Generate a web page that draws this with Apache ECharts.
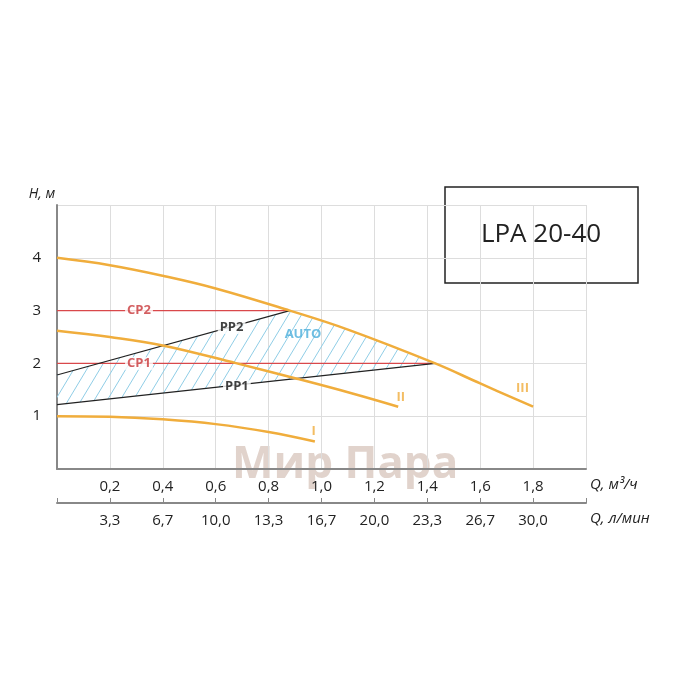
<!DOCTYPE html>
<html><head><meta charset="utf-8">
<script src="https://cdn.jsdelivr.net/npm/echarts@6/dist/echarts.min.js"></script>
<style>html,body{margin:0;padding:0;background:#fff}#c{width:700px;height:700px}</style>
</head><body><div id="c"></div>
<script>
const curveIII = [[0,4.0],[0.2,3.86],[0.4,3.66],[0.6,3.42],[0.88,3.0],[1.1,2.64],[1.43,2.0],[1.6,1.62],[1.8,1.18]];
const curveII = [[0,2.62],[0.2,2.5],[0.4,2.34],[0.68,2.0],[0.9,1.72],[1.11,1.44],[1.29,1.18]];
const curveI = [[0,1.0],[0.2,0.99],[0.4,0.94],[0.6,0.85],[0.8,0.7],[0.975,0.52]];
const pp2 = [[0,1.78],[0.88,3.0]];
const pp1 = [[0,1.22],[1.43,2.0]];
const cp2 = [[0,3.0],[0.88,3.0]];
const cp1 = [[0,2.0],[1.43,2.0]];
const autoUpper = [[0,1.78],[0.88,3.0],[1.1,2.64],[1.43,2.0]];
const qM3Labels = ['0,2','0,4','0,6','0,8','1,0','1,2','1,4','1,6','1,8'];
const qLpmLabels = ['3,3','6,7','10,0','13,3','16,7','20,0','23,3','26,7','30,0'];
const hLabels = ['1','2','3','4'];
const textLabels = [
  {name:'CP2', pos:[0.31,3.0], color:'#c8373a'},
  {name:'CP1', pos:[0.31,2.0], color:'#c8373a'},
  {name:'PP2', pos:[0.66,2.68], color:'#111'},
  {name:'PP1', pos:[0.68,1.56], color:'#111'},
  {name:'AUTO', pos:[0.93,2.55], color:'#4aaedb'},
  {name:'I', pos:[0.97,0.72], color:'#f0ad3c'},
  {name:'II', pos:[1.3,1.36], color:'#f0ad3c'},
  {name:'III', pos:[1.76,1.52], color:'#f0ad3c'}
];
const polygon = autoUpper.concat(pp1.slice().reverse());

const tick = (v,arr)=>{const i=Math.round(v/0.2)-1;return (i>=0&&i<arr.length)?arr[i]:'';};
const ORANGE='#f0ad3c';
const chart = echarts.init(document.getElementById('c'));
const line=(d,c,w,smooth)=>({type:'line',data:d,showSymbol:false,smooth:smooth?0.4:false,lineStyle:{color:c,width:w},z:smooth?5:4,silent:true});
function hatch(p,api){
  const pts=polygon.map(q=>api.coord(q));
  const xs=pts.map(a=>a[0]), ys=pts.map(a=>a[1]);
  const x0=Math.min(...xs),x1=Math.max(...xs),y0=Math.min(...ys),y1=Math.max(...ys);
  const h=y1-y0, children=[];
  for(let x=x0-h*0.6;x<x1;x+=13){
    children.push({type:'line',shape:{x1:x,y1:y1,x2:x+h*0.6,y2:y0},style:{stroke:'#8fcde6',lineWidth:1}});
  }
  return {type:'group',children:children,clipPath:{type:'polygon',shape:{points:pts}}};
}
chart.setOption({
  animation:false,
  textStyle:{fontFamily:'Open Sans'},
  grid:{left:57,right:114,top:205,bottom:231},
  xAxis:[
    {type:'value',min:0,max:2,interval:0.2,position:'bottom',
     axisLine:{lineStyle:{color:'#888',width:2}},axisTick:{show:false},
     splitLine:{lineStyle:{color:'#ddd'}},
     axisLabel:{formatter:v=>tick(v,qM3Labels),color:'#222',fontSize:15,margin:10},
     name:'Q, м³/ч',nameLocation:'end',nameGap:4,nameTextStyle:{fontStyle:'italic',fontSize:15,color:'#222',verticalAlign:'top',padding:[8,0,0,0]}},
    {type:'value',min:0,max:2,interval:0.2,position:'bottom',offset:34,
     axisLine:{show:true,lineStyle:{color:'#888',width:2}},axisTick:{show:true,inside:true,length:5,lineStyle:{color:'#888'}},
     splitLine:{show:false},
     axisLabel:{formatter:v=>tick(v,qLpmLabels),color:'#222',fontSize:15,margin:10},
     name:'Q, л/мин',nameLocation:'end',nameGap:4,nameTextStyle:{fontStyle:'italic',fontSize:15,color:'#222',verticalAlign:'top',padding:[8,0,0,0]}}
  ],
  yAxis:{type:'value',min:0,max:5,interval:1,
     axisLine:{show:true,lineStyle:{color:'#888',width:2}},axisTick:{show:false},
     splitLine:{lineStyle:{color:'#ddd'}},
     axisLabel:{formatter:v=>hLabels[v-1]||'',color:'#222',fontSize:15,margin:16},
     name:'H, м',nameLocation:'end',nameGap:4,nameTextStyle:{fontStyle:'italic',fontSize:14,color:'#222',padding:[0,30,0,0]}},
  graphic:[
    {type:'text',left:232,top:443,z:0,style:{text:'Мир Пара',fontSize:44,fontWeight:'bold',fill:'rgba(170,130,110,0.35)',fontFamily:'Open Sans'}},
    {type:'rect',shape:{x:445,y:187,width:193,height:96},style:{fill:'#fff',stroke:'#222',lineWidth:1.5}},
    {type:'text',x:541,y:235,style:{text:'LPA 20-40',fontSize:26,fill:'#222',align:'center',verticalAlign:'middle',fontFamily:'Open Sans'}}
  ],
  series:[
    {type:'custom',silent:true,z:1,renderItem:hatch,data:[0]},
    line(cp2,'#d9484b',1.2),line(cp1,'#d9484b',1.2),line(pp2,'#222',1.2),line(pp1,'#222',1.2),
    line(curveIII,ORANGE,2.5,true),line(curveII,ORANGE,2.5,true),line(curveI,ORANGE,2.5,true),
    {type:'scatter',symbolSize:0,z:10,silent:true,
     data:textLabels.map(t=>({value:t.pos,label:{show:true,position:'inside',formatter:t.name,color:t.color,fontWeight:'bold',fontSize:13,
       backgroundColor:(t.name.startsWith('CP')||t.name.startsWith('PP'))?'#fff':'transparent',padding:[0,2]}}))}
  ]
});
</script></body></html>
